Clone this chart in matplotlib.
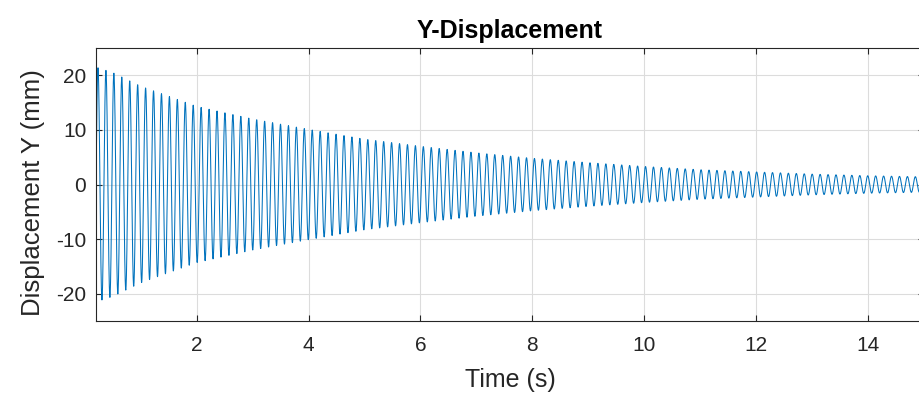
import numpy as np
import matplotlib.pyplot as plt

# envelope of the damped oscillation (s, mm)
env_t = [0.2, 0.5, 1, 2, 3, 4, 5, 6, 7, 8, 9, 10, 11, 12, 13, 14, 15]
env_up = [21.5, 20.5, 18.0, 14.3, 12.0, 10.1, 8.3, 7.0, 5.8, 4.8, 4.0, 3.3, 2.7, 2.3, 1.9, 1.6, 1.4]
freq = 7.05  # Hz, counted from the peaks
t0 = 0.2

t = np.arange(t0, 15.0, 0.002)
amp = np.interp(t, env_t, env_up)
y = amp * np.sin(2 * np.pi * freq * (t - t0))

plt.rcParams['font.family'] = ['Liberation Sans', 'DejaVu Sans']
plt.rcParams['axes.unicode_minus'] = False

fig = plt.figure(figsize=(9.19, 3.93), dpi=100)
ax = fig.add_axes([96 / 919, 1 - 321 / 393, (924 - 96) / 919, (321 - 48) / 393])
ax.plot(t, y, color='#0072BD', linewidth=0.75)

ax.set_xlim(0.2, 15)
ax.set_ylim(-25, 25)
ax.set_xticks([2, 4, 6, 8, 10, 12, 14])
ax.set_yticks([-20, -10, 0, 10, 20])
ax.grid(True, color='#dcdcdc', linewidth=0.8)
ax.set_axisbelow(True)
ax.tick_params(direction='in', top=True, right=True, labelsize=15, colors='#262626', length=4)
ax.tick_params(axis='x', pad=11)
ax.tick_params(axis='y', pad=7)
for s in ax.spines.values():
    s.set_color('#262626')
    s.set_linewidth(0.8)

ax.set_title('Y-Displacement', fontsize=18, fontweight='bold', color='#000000', pad=7)
ax.set_xlabel('Time (s)', fontsize=18, color='#262626', labelpad=9)
ax.set_ylabel('Displacement Y (mm)', fontsize=18.5, color='#262626')
ax.yaxis.set_label_coords(-0.061, 0.47)

fig.savefig('out.png', dpi=100)
